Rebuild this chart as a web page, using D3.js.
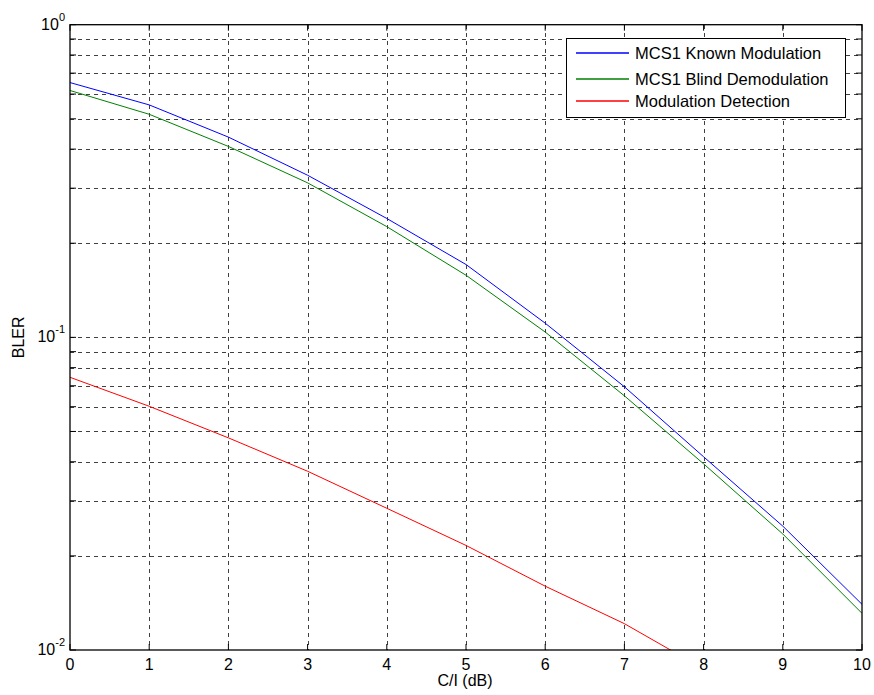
<!DOCTYPE html>
<html><head><meta charset="utf-8">
<script src="https://cdn.jsdelivr.net/npm/d3@7"></script>
<style>body{margin:0;background:#fff}svg{display:block}text{font-family:Arial,"Liberation Sans",sans-serif}</style>
</head><body>
<script>
const xVals = [0,1,2,3,4,5,6,7,8,9,10];
const knownMod = [0.653,0.554,0.437,0.330,0.240,0.171,0.111,0.0695,0.0415,0.0249,0.0140];
const blindDemod = [0.616,0.517,0.408,0.312,0.226,0.158,0.104,0.0650,0.0394,0.0235,0.0131];
const redX = [0,1,2,3,4,5,6,7,8];
const modDetect = [0.0745,0.0602,0.0477,0.0373,0.0284,0.0216,0.0160,0.01214,0.0087];
const seriesNames = ["MCS1 Known Modulation","MCS1 Blind Demodulation","Modulation Detection"];
const seriesColors = ["#0000ff","#008000","#ff0000"];
const xTicks = [0,1,2,3,4,5,6,7,8,9,10];
const yMajor = [1e-2,1e-1,1];
const yExp = ["-2","-1","0"];

const W=874,H=695;
const L=70,R=862,T=24.7,B=650;
const svg=d3.select("body").append("svg").attr("width",W).attr("height",H);
const x=d3.scaleLinear().domain([0,10]).range([L,R]);
const y=d3.scaleLog().domain([1e-2,1]).range([B,T]);

const yMinor=[];
for(let d=-2; d<0; d++) for(let m=2;m<=9;m++) yMinor.push(m*Math.pow(10,d));
const yAll=yMajor.concat(yMinor);

// grid
const g=svg.append("g").attr("stroke","#000").attr("stroke-width",1).attr("stroke-dasharray","4,4").attr("shape-rendering","crispEdges").attr("stroke-opacity",0.75);
xTicks.slice(1,-1).forEach(v=>g.append("line").attr("x1",Math.round(x(v))+0.5).attr("x2",Math.round(x(v))+0.5).attr("y1",T).attr("y2",B));
yAll.filter(v=>v>1e-2&&v<1).forEach(v=>g.append("line").attr("x1",L).attr("x2",R).attr("y1",Math.round(y(v))+0.5).attr("y2",Math.round(y(v))+0.5));

// clip
svg.append("clipPath").attr("id","clip").append("rect").attr("x",L).attr("y",T).attr("width",R-L).attr("height",B-T);

const line=d3.line().x(d=>x(d[0])).y(d=>y(d[1]));
const data=[xVals.map((v,i)=>[v,knownMod[i]]), xVals.map((v,i)=>[v,blindDemod[i]]), redX.map((v,i)=>[v,modDetect[i]])];
data.forEach((d,i)=>svg.append("path").attr("d",line(d)).attr("fill","none").attr("stroke",seriesColors[i]).attr("stroke-width",1).attr("clip-path","url(#clip)"));

// frame
svg.append("rect").attr("x",L).attr("y",T).attr("width",R-L).attr("height",B-T).attr("fill","none").attr("stroke","#000").attr("stroke-width",1.3);

// ticks
const tk=svg.append("g").attr("stroke","#000").attr("stroke-width",1);
xTicks.forEach(v=>{tk.append("line").attr("x1",x(v)).attr("x2",x(v)).attr("y1",B).attr("y2",B-6);tk.append("line").attr("x1",x(v)).attr("x2",x(v)).attr("y1",T).attr("y2",T+6);});
yAll.forEach(v=>{tk.append("line").attr("x1",L).attr("x2",L+6).attr("y1",y(v)).attr("y2",y(v));tk.append("line").attr("x1",R).attr("x2",R-6).attr("y1",y(v)).attr("y2",y(v));});

// x labels
xTicks.forEach(v=>svg.append("text").attr("x",x(v)).attr("y",670).attr("text-anchor","middle").attr("font-size",16).text(v));
// y labels
yMajor.forEach((v,i)=>{
  const t=svg.append("text").attr("x",L-5).attr("y",y(v)+5).attr("text-anchor","end").attr("font-size",16);
  t.append("tspan").text("10");
  t.append("tspan").attr("dy",-9).attr("font-size",11).text(yExp[i]);
});
// axis titles
svg.append("text").attr("x",465).attr("y",686).attr("text-anchor","middle").attr("font-size",16).text("C/I (dB)");
svg.append("text").attr("transform","translate(24,"+((T+B)/2)+") rotate(-90)").attr("text-anchor","middle").attr("font-size",16).text("BLER");

// legend
const lg=svg.append("g");
lg.append("rect").attr("x",566.5).attr("y",38.5).attr("width",279).attr("height",79).attr("fill","#fff").attr("stroke","#000").attr("stroke-width",1);
const rows=[53,79,101];
const legLine=d3.line();
seriesNames.forEach((n,i)=>{
  lg.append("path").attr("d",legLine([[576,rows[i]],[629,rows[i]]])).attr("fill","none").attr("style","stroke:"+seriesColors[i]+";stroke-width:1.3px");
  lg.append("text").attr("x",635).attr("y",rows[i]+6).attr("font-size",16.5).text(n);
});
</script>
</body></html>
